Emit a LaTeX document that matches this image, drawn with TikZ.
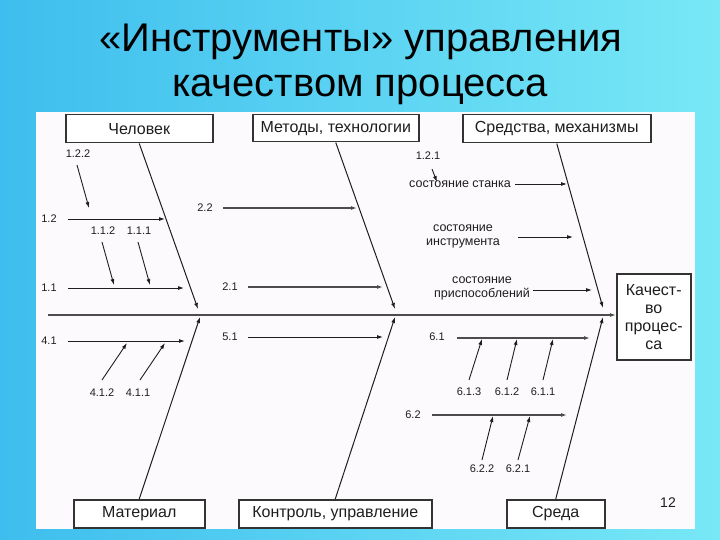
\documentclass[tikz,border=0pt]{standalone}
\usepackage{fontspec}
\setmainfont{Liberation Sans}
\usetikzlibrary{arrows.meta}
\definecolor{bgL}{RGB}{62,190,238}
\definecolor{bgR}{RGB}{120,232,246}
\definecolor{panel}{RGB}{253,250,253}
\definecolor{ink}{RGB}{30,30,30}
\begin{document}
\begin{tikzpicture}[x=1pt,y=-1pt,
  box/.style={draw=black!80, line width=1.5pt, fill=white, font=\fontsize{16}{18}\selectfont, inner sep=0pt, anchor=north west, text=ink},
  num/.style={font=\fontsize{11}{12}\selectfont, text=ink, inner sep=0pt},
  lbl/.style={font=\fontsize{12.5}{14}\selectfont, text=ink, inner sep=0pt, align=center},
  arr/.style={-{Latex[length=6pt,width=4pt]}, line width=0.9pt, draw=ink},
  bone/.style={arr, line width=1pt},
  thickarr/.style={arr, line width=1.3pt, draw=black!70},
  titlefont/.style={font=\fontsize{40}{46}\selectfont, text=black, inner sep=0pt}]
\shade[left color=bgL,right color=bgR] (0,0) rectangle (720,540);
\useasboundingbox (0,0) rectangle (720,540);
\fill[panel] (36,112) rectangle (695,529);
% title
\node[titlefont, anchor=base] (t1) at (361,52) {«Инструменты» управления};
\node[titlefont, anchor=base] (t2) at (360,97) {качеством процесса};
% boxes
\node[box, minimum width=147, minimum height=28] (chel) at (65,114) {Человек};
\node[box, minimum width=166, minimum height=27] (meth) at (252,114) {Методы, технологии};
\node[box, minimum width=188, minimum height=28] (sred) at (462,114) {Средства, механизмы};
\node[box, minimum width=131, minimum height=28] (mat) at (73,499) {Материал};
\node[box, minimum width=193, minimum height=28] (kontr) at (238,499) {Контроль, управление};
\node[box, minimum width=98, minimum height=28] (sreda) at (506,499) {Среда};
\node[box, minimum width=74, minimum height=86, align=center] (qual) at (616,273) {Качест-\\во\\процес-\\са};
% spine
\coordinate (sp0) at (48,315);
\draw[thickarr] (sp0) -- (sp0 -| qual.west);
% bones
\coordinate (b1) at (198,309);
\coordinate (b2) at (395,309);
\coordinate (b3) at (603,308);
\coordinate (b4) at (200,317);
\coordinate (b5) at (395,317);
\coordinate (b6) at (603,317);
\draw[bone] (chel.south) -- (b1);
\draw[bone] (meth.south) -- (b2);
\draw[bone] (sred.south) -- (b3);
\draw[bone] (mat.north) -- (b4);
\draw[bone] (kontr.north) -- (b5);
\draw[bone] (sreda.north) -- (b6);
% Человек
\node[num] (l122) at (78,154) {1.2.2};
\node[num] (l12) at (49,219) {1.2};
\node[num] (l112) at (103,231) {1.1.2};
\node[num] (l111) at (139,231) {1.1.1};
\node[num] (l11) at (49,288) {1.1};
\coordinate (s122) at (77,165); \coordinate (e122) at (89,208);
\coordinate (s12) at (68,219); \coordinate (e12) at (165,219);
\coordinate (s112) at (102,242); \coordinate (e112) at (114,285);
\coordinate (s111) at (138,242); \coordinate (e111) at (150,285);
\coordinate (s11) at (68,288); \coordinate (e11) at (184,288);
\draw[arr] (s122) -- (e122);
\draw[arr] (s12) -- (e12);
\draw[arr] (s112) -- (e112);
\draw[arr] (s111) -- (e111);
\draw[arr] (s11) -- (e11);
% Методы
\node[num] (l22) at (205,208) {2.2};
\node[num] (l21) at (230,287) {2.1};
\coordinate (s22) at (223,208); \coordinate (e22) at (357,208);
\coordinate (s21) at (248,287); \coordinate (e21) at (383,287);
\draw[thickarr] (s22) -- (e22);
\draw[thickarr] (s21) -- (e21);
% Средства
\node[num] (l121) at (428,156) {1.2.1};
\node[lbl] (lst) at (460,184) {состояние станка};
\node[lbl] (lins) at (463,236) {состояние\\инструмента};
\node[lbl] (lpr) at (482,288) {состояние\\приспособлений};
\coordinate (s121) at (432,169); \coordinate (e121) at (437,182);
\coordinate (sst) at (515,184); \coordinate (est) at (567,184);
\coordinate (sins) at (518,237); \coordinate (eins) at (573,237);
\coordinate (spr) at (533,290); \coordinate (epr) at (592,290);
\draw[arr] (s121) -- (e121);
\draw[arr] (sst) -- (est);
\draw[arr] (sins) -- (eins);
\draw[arr] (spr) -- (epr);
% Материал
\node[num] (l41) at (49,341) {4.1};
\node[num] (l412) at (102,393) {4.1.2};
\node[num] (l411) at (138,393) {4.1.1};
\coordinate (s41) at (68,341); \coordinate (e41) at (185,341);
\coordinate (s412) at (102,380); \coordinate (e412) at (127,343);
\coordinate (s411) at (140,380); \coordinate (e411) at (165,343);
\draw[arr] (s41) -- (e41);
\draw[arr] (s412) -- (e412);
\draw[arr] (s411) -- (e411);
% Контроль
\node[num] (l51) at (230,337) {5.1};
\coordinate (s51) at (248,337); \coordinate (e51) at (383,337);
\draw[arr] (s51) -- (e51);
% Среда
\node[num] (l61) at (437,337) {6.1};
\node[num] (l613) at (469,392) {6.1.3};
\node[num] (l612) at (507,392) {6.1.2};
\node[num] (l611) at (543,392) {6.1.1};
\node[num] (l62) at (413,415) {6.2};
\node[num] (l622) at (482,469) {6.2.2};
\node[num] (l621) at (518,469) {6.2.1};
\coordinate (s61) at (457,338); \coordinate (e61) at (590,338);
\coordinate (s613) at (469,380); \coordinate (e613) at (482,339);
\coordinate (s612) at (507,380); \coordinate (e612) at (517,339);
\coordinate (s611) at (543,380); \coordinate (e611) at (553,339);
\coordinate (s62) at (432,415); \coordinate (e62) at (567,415);
\coordinate (s622) at (482,460); \coordinate (e622) at (493,416);
\coordinate (s621) at (518,460); \coordinate (e621) at (530,416);
\draw[thickarr] (s61) -- (e61);
\draw[arr] (s613) -- (e613);
\draw[arr] (s612) -- (e612);
\draw[arr] (s611) -- (e611);
\draw[thickarr] (s62) -- (e62);
\draw[arr] (s622) -- (e622);
\draw[arr] (s621) -- (e621);
% page number
\node[font=\fontsize{14}{16}\selectfont, text=ink, inner sep=0pt] (pg) at (668,503) {12};
\end{tikzpicture}
\end{document}
